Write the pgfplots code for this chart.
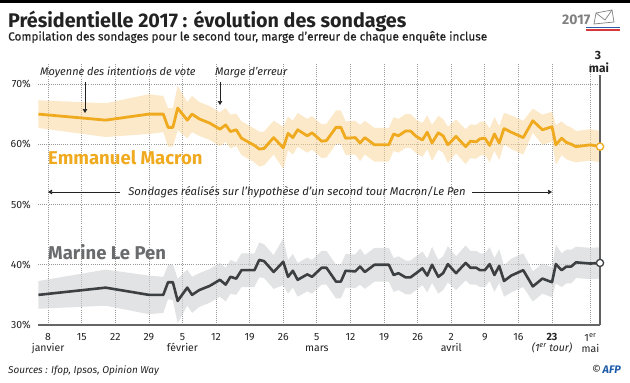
\documentclass[border=0pt]{standalone}
\usepackage{fontspec}
\setmainfont{Fira Sans}
\newfontfamily\subfont[FakeBold=0.4]{Fira Sans}
\usepackage{pgfplots}
\usepackage{pgfplotstable}
\pgfplotsset{compat=1.18}
\usepgfplotslibrary{fillbetween}
\usetikzlibrary{arrows.meta}
\definecolor{mac}{HTML}{F0AA1F}
\definecolor{macband}{HTML}{F9D79C}
\definecolor{lep}{HTML}{3C4043}
\definecolor{lepband}{HTML}{CFD0D2}
\definecolor{leplabel}{HTML}{6A6B6D}
\definecolor{txt}{HTML}{222222}
\definecolor{afpblue}{HTML}{1E5BA8}
\definecolor{flagblue}{HTML}{2B5DA8}
\definecolor{flagred}{HTML}{D9383A}

\pgfplotstableread{
d m me l le
6 65.0 2.3 35.0 2.3
20 64.0 2.8 36.2 3.0
29 65.0 3.3 35.0 3.2
32 65.0 3.0 35.0 3.0
33 62.8 3.2 37.1 2.8
34 62.8 3.2 37.1 3.0
35 66.0 3.7 34.0 3.7
37 64.0 3.0 36.2 3.0
38 65.0 3.0 35.0 3.0
39.5 64.2 2.8 35.8 2.8
41.7 63.5 2.8 36.5 2.8
43.8 62.5 2.8 37.5 2.8
45 63.2 2.8 36.7 2.8
46 62.1 2.8 38.0 2.8
47.2 62.4 2.7 37.7 2.7
48.3 61.0 2.8 39.1 2.8
51 59.8 2.8 39.1 2.8
52 59.2 2.9 40.8 2.9
53 59.3 2.8 40.6 2.8
55 61.1 2.8 38.8 2.8
57 59.4 3.5 40.5 3.9
58 61.8 2.8 38.0 2.8
59 61.1 2.8 39.0 2.8
60 62.4 2.8 37.5 2.8
62 61.4 2.8 38.4 2.8
63 61.9 2.8 38.0 2.8
65 60.5 2.8 39.5 2.8
66 60.6 2.8 39.5 2.8
68 62.8 2.8 37.2 2.8
69 62.8 2.8 37.2 2.8
70 61.0 2.8 39.0 2.8
72 61.1 2.8 38.9 2.8
73 60.2 3.0 39.7 3.0
74 61.1 2.8 38.8 2.8
76 59.9 2.8 40.0 2.8
79 59.9 2.8 40.0 2.8
80 61.7 2.8 38.3 2.8
81 61.4 2.8 38.6 2.8
82.5 62.2 2.8 37.9 2.8
83.5 62.2 2.8 37.9 2.8
84.7 61.3 2.8 38.6 2.8
86 60.7 2.8 39.4 2.8
87 62.0 2.8 38.2 2.8
88 60.2 3.0 40.0 3.0
89.3 61.9 2.8 38.0 2.8
90.3 61.4 2.8 38.6 2.8
91.3 59.9 3.0 40.1 3.0
93 61.3 2.8 38.6 2.8
95 59.6 2.9 40.3 2.9
96 60.5 2.8 39.5 2.8
97.2 60.4 2.8 39.5 2.8
98 60.9 2.8 39.1 2.8
99 61.0 2.8 39.1 2.8
100 59.8 2.8 40.1 2.8
101 61.7 2.8 38.3 2.8
102 60.2 2.8 39.8 2.8
103 62.6 2.6 37.3 2.6
104.5 62.0 2.8 38.2 2.8
107 61.1 2.8 39.1 2.8
109 63.9 2.0 36.4 2.5
111 62.4 2.5 37.7 2.5
113 62.9 2.5 37.1 2.5
113.8 59.9 3.3 40.1 3.2
115 61.0 2.8 39.1 2.8
116 60.3 2.8 39.7 2.8
117 60.0 2.8 39.7 2.8
118 59.6 2.6 40.4 2.6
121 59.9 2.6 40.2 2.6
123 59.6 2.6 40.3 2.6
}\polls

\begin{document}
\begin{tikzpicture}[x=1bp,y=1bp]
\path (0,0) rectangle (630,382);
\fill[black] (0,379) rectangle (630,382);
\node[anchor=base west, inner sep=0, font=\bfseries\fontsize{19.8}{22}\selectfont, text=txt] at (8,355) {Présidentielle 2017 : évolution des sondages};
\node[anchor=base west, inner sep=0, font=\subfont\fontsize{11.8}{13}\selectfont, text=txt] at (8,341.5) {Compilation des sondages pour le second tour, marge d’erreur de chaque enquête incluse};

\begin{axis}[
  at={(38bp,57bp)}, anchor=south west, scale only axis,
  width=562bp, height=260.9bp,
  xmin=5.9, xmax=123, ymin=30, ymax=73.3,
  axis x line*=bottom, axis y line*=left,
  x axis line style={draw=gray!80!black, line width=1.2bp},
  y axis line style={draw=none},
  major tick length=0pt,
  ytick={30,40,50,60,70},
  yticklabels={30\%,40\%,50\%,60\%,70\%},
  yticklabel style={inner sep=0pt, xshift=-7bp, font=\fontsize{10.5}{12}\selectfont, text=txt},
  xtick={8,15,22,29,36,43,50,57,64,71,78,85,92,99,106,113,121},
  xticklabels={8\\janvier,15,22,29,5\\février,12,19,26,5\\mars,12,19,26,2\\avril,9,16,\textbf{23}\\\textit{(1\textsuperscript{er} tour)},1\textsuperscript{er}\\mai},
  xticklabel style={inner sep=0pt, align=center, anchor=north, yshift=-8bp, font=\fontsize{10.5}{11.5}\selectfont, text=txt},
  xmajorgrids, ymajorgrids,
  major grid style={draw=gray!80, line width=0.7bp, dash pattern=on 0.8bp off 1.3bp},
  clip=false,
]
\addplot[draw=none, name path=mu, forget plot] table[x=d, y expr=\thisrow{m}+\thisrow{me}] {\polls};
\addplot[draw=none, name path=ml, forget plot] table[x=d, y expr=\thisrow{m}-\thisrow{me}] {\polls};
\addplot[fill=macband, fill opacity=0.55, draw=none] fill between[of=mu and ml];
\addplot[draw=none, name path=lu, forget plot] table[x=d, y expr=\thisrow{l}+\thisrow{le}] {\polls};
\addplot[draw=none, name path=ll, forget plot] table[x=d, y expr=\thisrow{l}-\thisrow{le}] {\polls};
\addplot[fill=lepband, fill opacity=0.6, draw=none] fill between[of=lu and ll];
\addplot[mac, line width=2.8bp, line join=round] table[x=d, y=m] {\polls};
\addplot[lep, line width=2.6bp, line join=round] table[x=d, y=l] {\polls};
\draw[gray!75!black, line width=1.2bp] (axis cs:123,30) -- (axis cs:123,71.5);
\addplot[only marks, mark=*, mark size=3.6bp, mark options={fill=white, draw=mac, line width=1.3bp}] coordinates {(123,59.6)};
\addplot[only marks, mark=*, mark size=3.6bp, mark options={fill=white, draw=lep, line width=1.3bp}] coordinates {(123,40.3)};
\end{axis}

% annotations
\node[anchor=west, inner sep=0, font=\itshape\fontsize{11}{12}\selectfont, text=txt] at (40,309.7) {Moyenne des intentions de vote};
\draw[-{Triangle[length=4bp,width=4.5bp]}, line width=0.6bp, txt] (85,300) -- (85,269);
\node[anchor=west, inner sep=0, font=\itshape\fontsize{11}{12}\selectfont, text=txt] at (215,309.7) {Marge d’erreur};
\draw[-{Triangle[length=4bp,width=4.5bp]}, line width=0.6bp, txt] (220,300) -- (220,277);
\node[inner sep=0, font=\itshape\fontsize{11.3}{12}\selectfont, text=txt] at (297,190) {Sondages réalisés sur l’hypothèse d’un second tour Macron/Le Pen};
\draw[-{Triangle[length=4bp,width=4.5bp]}, line width=0.6bp, txt] (120,190) -- (48,190);
\draw[-{Triangle[length=4bp,width=4.5bp]}, line width=0.6bp, txt] (472,190) -- (552,190);
\node[anchor=west, inner sep=0, font=\bfseries\fontsize{18.6}{19}\selectfont, text=mac] at (48,224.7) {Emmanuel Macron};
\node[anchor=west, inner sep=0, font=\bfseries\fontsize{18.6}{19}\selectfont, text=leplabel] at (48,130.3) {Marine Le Pen};
\node[inner sep=0, font=\bfseries\fontsize{12}{13}\selectfont, text=txt] at (598,327) {3};
\node[inner sep=0, font=\bfseries\fontsize{12}{13}\selectfont, text=txt] at (599,314) {mai};

% footer
\node[anchor=base west, inner sep=0, font=\itshape\fontsize{10}{12}\selectfont, text=txt] at (8,8.5) {Sources : Ifop, Ipsos, Opinion Way};
\node[anchor=base east, inner sep=0, font=\fontsize{11}{12}\selectfont, text=txt] at (621,8.5) {\textcopyright\,\textcolor{afpblue}{\bfseries\itshape AFP}};

% logo
\node[anchor=west, inner sep=0, font=\bfseries\fontsize{14}{14}\selectfont, text=gray] at (562,362) {2017};
\draw[gray, line width=0.7bp] (594,358) -- (596,369) -- (612,372) -- (614,360) -- cycle;
\draw[gray, line width=0.7bp] (596,369) -- (605,362) -- (612,372);
\fill[flagblue] (586,353.5) rectangle (620,355.2);
\fill[flagred] (586,351) rectangle (620,352.7);
\end{tikzpicture}
\end{document}
